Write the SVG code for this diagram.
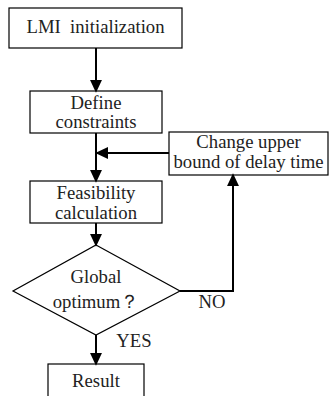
<svg xmlns="http://www.w3.org/2000/svg" width="330" height="396" viewBox="0 0 330 396">
<defs>
<marker id="ah" markerWidth="13" markerHeight="15" refX="13" refY="7" orient="auto" markerUnits="userSpaceOnUse" viewBox="0 0 15 14">
<path d="M0,0 L15,7 L0,14 Z" fill="#000"/>
</marker>
<style>
.box{fill:#fff;stroke:#000;stroke-width:1.2}
text{font-family:"Liberation Serif","Times New Roman",serif;font-size:18.7px;fill:#222;text-anchor:middle}
.c{stroke:#000;stroke-width:2;fill:none}
</style>
</defs>
<rect width="330" height="396" fill="#fff"/>
<g id="n1"><rect class="box" x="9" y="8" width="173" height="40"/><text x="95.5" y="33" xml:space="preserve">LMI  initialization</text></g>
<g id="n2"><rect class="box" x="30" y="91" width="132" height="42"/><text x="96" y="108.5">Define</text><text x="96" y="128">constraints</text></g>
<g id="n3"><rect class="box" x="169" y="132" width="159" height="43"/><text x="248.5" y="148">Change upper</text><text x="248.5" y="168">bound of delay time</text></g>
<g id="n4"><rect class="box" x="30" y="181" width="132" height="42"/><text x="96" y="199">Feasibility</text><text x="96" y="218.5">calculation</text></g>
<g id="n5"><path class="box" d="M96,245 L180,291 L96,335 L13,291 Z"/><text x="96" y="283">Global</text><text x="96" y="308">optimum？</text></g>
<g id="n6"><rect class="box" x="48" y="364" width="96" height="40"/><text x="96" y="387">Result</text></g>
<g id="connectors">
<line class="c" x1="96" y1="48" x2="96" y2="91" marker-end="url(#ah)"/>
<line class="c" x1="96" y1="133" x2="96" y2="181" marker-end="url(#ah)"/>
<line class="c" x1="169" y1="153" x2="97" y2="153" marker-end="url(#ah)"/>
<line class="c" x1="96" y1="223" x2="96" y2="245" marker-end="url(#ah)"/>
<polyline class="c" points="180,291 233,291 233,175" marker-end="url(#ah)"/>
<line class="c" x1="96" y1="335" x2="96" y2="364" marker-end="url(#ah)"/>
<text x="212" y="308">NO</text>
<text x="134" y="347">YES</text>
</g>
</svg>
